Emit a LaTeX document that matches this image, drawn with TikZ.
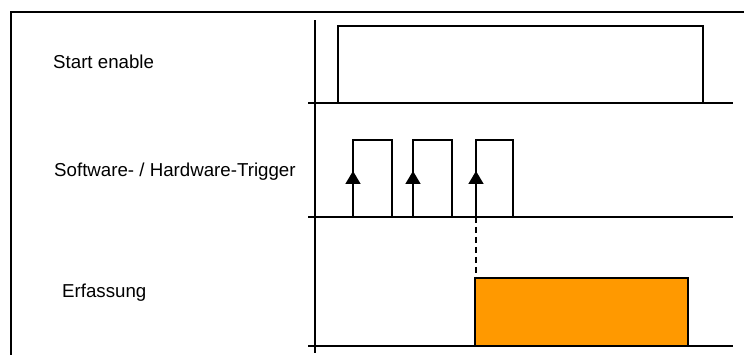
\documentclass[tikz,border=0pt]{standalone}
\usepackage{fontspec}
\setmainfont{Liberation Sans}
\usetikzlibrary{arrows.meta}
\definecolor{acqorange}{HTML}{FF9900}

\begin{document}
\begin{tikzpicture}[x=1pt, y=1pt,
    signal/.style={line width=1.6pt},
    frameline/.style={line width=2.4pt},
    lbl/.style={anchor=base west, inner sep=0pt, font=\fontsize{18.7}{22}\selectfont},
    trigedge/.style={signal, -{Triangle[width=15pt, length=13pt]}}]
    \useasboundingbox (0,0) rectangle (744,355);
    % frame and time axis
    \draw[frameline] (11,0) -- (11,343) -- (744,343);
    \draw[signal] (315,2) -- (315,335);
    % labels
    \node[lbl] (start) at (53,286) {Start enable};
    \node[lbl] (trig) at (54,178) {Software- / Hardware-Trigger};
    \node[lbl] (erf) at (62,57) {Erfassung};
    % start enable
    \draw[signal] (308,252) -- (733,252);
    \draw[signal] (338,252) -- (338,329) -- (703,329) -- (703,252);
    % trigger pulses
    \draw[signal] (308,138) -- (733,138);
    \foreach \a/\b in {353/392, 413/452, 476/513} {
        \draw[signal] (\a,138) -- (\a,215) -- (\b,215) -- (\b,138);
        \draw[trigedge] (\a,138) -- (\a,184);
    }
    % acquisition
    \coordinate (hit) at (476,138);
    \coordinate (acqtop) at (476,77);
    \draw[signal] (308,9) -- (733,9);
    \draw[signal, fill=acqorange] (475,9) rectangle (688,77);
    \draw[signal, dash pattern=on 6pt off 4pt] (hit) -- (acqtop);
\end{tikzpicture}
\end{document}
